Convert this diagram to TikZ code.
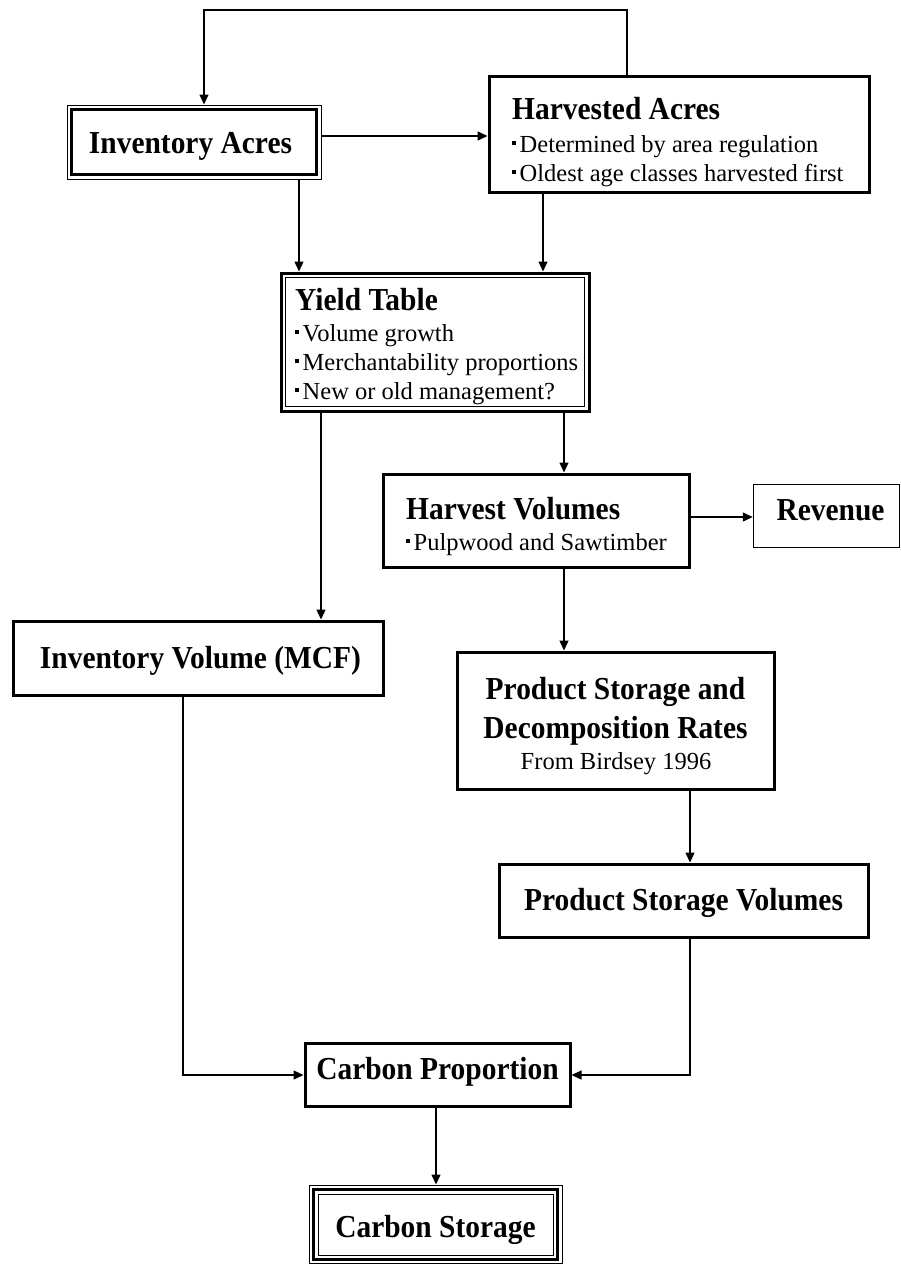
\documentclass[tikz,border=0pt]{standalone}
\usepackage{fontspec}
\setmainfont{Liberation Serif}
\newfontfamily\hdfont[FakeStretch=0.92]{Liberation Serif}
\usetikzlibrary{arrows.meta}
\newcommand{\hd}{\hdfont\fontsize{32}{38}\selectfont\bfseries}
\newcommand{\bt}{\fontsize{24.5}{29}\selectfont}
\newcommand{\bul}{\rule[7pt]{4pt}{4pt}\hspace{3.5pt}}
\begin{document}
\begin{tikzpicture}[x=1pt,y=-1pt,
  box/.style={draw,line width=3pt,inner sep=0pt},
  thinbox/.style={draw,line width=1pt,inner sep=0pt},
  revbox/.style={draw,line width=1.5pt,inner sep=0pt},
  txt/.style={inner sep=0pt,anchor=base west},
  ctxt/.style={inner sep=0pt,anchor=base},
  arr/.style={line width=1.3pt,-{Triangle[length=10pt,width=9pt]}}]
\fill[white] (0,0) rectangle (901,1264);
\useasboundingbox (0,0) rectangle (901,1264);

% Inventory Acres
\node[thinbox,minimum width=254,minimum height=74] (iao) at (194,142) {};
\node[box,minimum width=244.5,minimum height=65] (ia) at (193.75,142) {};
\node[ctxt,font=\hd] (iat) at (190.5,153) {Inventory Acres};

% Harvested Acres
\node[box,minimum width=380,minimum height=116] (ha) at (679,134) {};
\node[txt,font=\hd] (hat) at (512,119) {Harvested Acres};
\node[txt,font=\bt] (ha1) at (512,152) {\bul Determined by area regulation};
\node[txt,font=\bt] (ha2) at (512,181) {\bul Oldest age classes harvested first};

% Yield Table
\node[box,minimum width=308,minimum height=138] (yt) at (435,342) {};
\node[thinbox,minimum width=299,minimum height=129] (yti) at (435,342) {};
\node[txt,font=\hd] (ytt) at (295,310) {Yield Table};
\node[txt,font=\bt] (yt1) at (295,341) {\bul Volume growth};
\node[txt,font=\bt] (yt2) at (295,370) {\bul Merchantability proportions};
\node[txt,font=\bt] (yt3) at (295,399) {\bul New or old management?};

% Harvest Volumes
\node[box,minimum width=306,minimum height=93] (hv) at (536,520.5) {};
\node[txt,font=\hd] (hvt) at (406,519) {Harvest Volumes};
\node[txt,font=\bt] (hv1) at (406,550) {\bul Pulpwood and Sawtimber};

% Revenue
\node[revbox,minimum width=146,minimum height=63] (rv) at (826.5,516) {};
\node[ctxt,font=\hd] (rvt) at (830.5,520) {Revenue};

% Inventory Volume
\node[box,minimum width=370,minimum height=74] (iv) at (198,658) {};
\node[ctxt,font=\hd] (ivt) at (200.5,668) {Inventory Volume (MCF)};

% Product Storage and Decomposition Rates
\node[box,minimum width=317,minimum height=137] (ps) at (615.5,720.5) {};
\node[ctxt,font=\hd] (pst1) at (615.5,699) {Product Storage and};
\node[ctxt,font=\hd] (pst2) at (615.5,738) {Decomposition Rates};
\node[ctxt,font=\bt] (pst3) at (616,769) {From Birdsey 1996};

% Product Storage Volumes
\node[box,minimum width=369,minimum height=73] (psv) at (683.5,900.5) {};
\node[ctxt,font=\hd] (psvt) at (683.5,910) {Product Storage Volumes};

% Carbon Proportion
\node[box,minimum width=265,minimum height=63] (cp) at (437.5,1074.5) {};
\node[ctxt,font=\hd] (cpt) at (437.5,1079) {Carbon Proportion};

% Carbon Storage
\node[thinbox,minimum width=253,minimum height=78.5] (cso) at (435.5,1224.25) {};
\node[box,minimum width=244,minimum height=70] (cs) at (435.5,1224.5) {};
\node[thinbox,minimum width=235,minimum height=61] (csi) at (435.5,1224.5) {};
\node[ctxt,font=\hd] (cst) at (435.5,1237) {Carbon Storage};

% connectors
\coordinate (tl) at (204,10);
\coordinate (tr) at (627,10);
\draw[arr] (tr |- ha.north) -- (tr) -- (tl) -- (tl |- iao.north);
\coordinate (y1) at (0,136);
\draw[arr] (iao.east |- y1) -- (ha.west |- y1);
\coordinate (x1) at (299,0);
\draw[arr] (x1 |- iao.south) -- (x1 |- yt.north);
\coordinate (x2) at (543,0);
\draw[arr] (x2 |- ha.south) -- (x2 |- yt.north);
\coordinate (x3) at (564,0);
\draw[arr] (x3 |- yt.south) -- (x3 |- hv.north);
\draw[arr] (x3 |- hv.south) -- (x3 |- ps.north);
\coordinate (x4) at (321,0);
\draw[arr] (x4 |- yt.south) -- (x4 |- iv.north);
\coordinate (y2) at (0,517);
\draw[arr] (hv.east |- y2) -- (rv.west |- y2);
\coordinate (x5) at (690,0);
\draw[arr] (x5 |- ps.south) -- (x5 |- psv.north);
\coordinate (x6) at (183,0);
\coordinate (y3) at (0,1075);
\draw[arr] (x6 |- iv.south) -- (x6 |- y3) -- (cp.west |- y3);
\draw[arr] (x5 |- psv.south) -- (x5 |- y3) -- (cp.east |- y3);
\coordinate (x7) at (436,0);
\draw[arr] (x7 |- cp.south) -- (x7 |- cso.north);
\end{tikzpicture}
\end{document}
